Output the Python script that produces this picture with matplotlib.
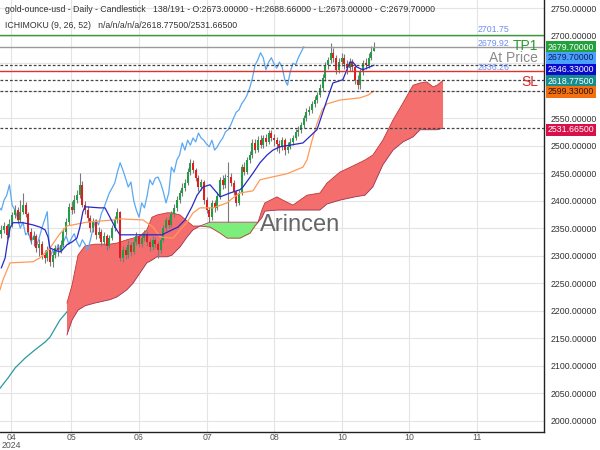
import matplotlib
matplotlib.use("Agg")
import matplotlib.pyplot as plt
import numpy as np

# ---------------- data ----------------
opens = [2340, 2347, 2354, 2338, 2358, 2374, 2383, 2365, 2380, 2392,
         2376, 2343, 2329, 2336, 2314, 2321, 2301, 2296, 2310, 2289,
         2301, 2314, 2310, 2320, 2343, 2361, 2389, 2383, 2401, 2410,
         2429, 2392, 2383, 2369, 2350, 2361, 2338, 2343, 2325, 2336,
         2318, 2332, 2350, 2365, 2380, 2296, 2310, 2301, 2320, 2307,
         2325, 2336, 2321, 2332, 2340, 2325, 2316, 2329, 2321, 2310,
         2329, 2350, 2365, 2356, 2376, 2387, 2401, 2414, 2423, 2432,
         2452, 2469, 2456, 2441, 2425, 2434, 2401, 2383, 2370, 2396,
         2387, 2409, 2438, 2429, 2443, 2443, 2432, 2416, 2396, 2414,
         2461, 2452, 2474, 2483, 2505, 2492, 2510, 2501, 2514, 2507,
         2523, 2514, 2510, 2503, 2498, 2510, 2492, 2498, 2507, 2514,
         2525, 2529, 2538, 2550, 2561, 2565, 2576, 2583, 2592, 2605,
         2623, 2647, 2656, 2669, 2660, 2638, 2652, 2660, 2649, 2641,
         2652, 2643, 2620, 2610, 2634, 2650, 2647, 2660, 2673]
closes = [2347, 2354, 2338, 2358, 2374, 2383, 2365, 2380, 2392, 2376,
          2343, 2329, 2336, 2314, 2321, 2301, 2296, 2310, 2289, 2301,
          2314, 2310, 2320, 2343, 2361, 2389, 2383, 2401, 2410, 2429,
          2392, 2383, 2369, 2350, 2361, 2338, 2343, 2325, 2336, 2318,
          2332, 2350, 2365, 2380, 2296, 2310, 2301, 2320, 2307, 2325,
          2336, 2321, 2332, 2340, 2325, 2316, 2329, 2321, 2310, 2329,
          2350, 2365, 2356, 2376, 2387, 2401, 2414, 2423, 2432, 2452,
          2469, 2456, 2441, 2425, 2434, 2401, 2383, 2370, 2396, 2387,
          2409, 2438, 2429, 2441, 2443, 2432, 2416, 2396, 2414, 2461,
          2452, 2474, 2483, 2505, 2492, 2510, 2501, 2514, 2507, 2523,
          2514, 2510, 2503, 2498, 2510, 2492, 2498, 2507, 2514, 2525,
          2529, 2538, 2550, 2561, 2565, 2576, 2583, 2592, 2605, 2623,
          2647, 2656, 2669, 2660, 2638, 2652, 2660, 2649, 2641, 2652,
          2643, 2620, 2610, 2634, 2650, 2647, 2660, 2670, 2679.7]
highs = [2356, 2362, 2358, 2366, 2380, 2392, 2388, 2402, 2414, 2398,
         2380, 2350, 2345, 2340, 2330, 2326, 2310, 2318, 2315, 2308,
         2320, 2322, 2328, 2350, 2368, 2395, 2400, 2410, 2420, 2450,
         2435, 2400, 2390, 2374, 2368, 2366, 2352, 2348, 2344, 2340,
         2338, 2356, 2372, 2386, 2382, 2318, 2316, 2328, 2325, 2332,
         2344, 2340, 2338, 2346, 2345, 2330, 2336, 2334, 2326, 2334,
         2356, 2370, 2372, 2382, 2394, 2408, 2420, 2432, 2440, 2460,
         2476, 2474, 2460, 2446, 2440, 2438, 2406, 2388, 2402, 2402,
         2415, 2444, 2446, 2448, 2470, 2450, 2438, 2420, 2420, 2466,
         2470, 2480, 2490, 2512, 2512, 2518, 2520, 2520, 2522, 2528,
         2528, 2522, 2516, 2510, 2516, 2514, 2506, 2514, 2520, 2530,
         2536, 2544, 2556, 2568, 2572, 2582, 2590, 2598, 2612, 2630,
         2652, 2662, 2686, 2678, 2664, 2660, 2668, 2666, 2656, 2660,
         2658, 2648, 2628, 2640, 2655, 2660, 2668, 2682, 2688.66]
lows = [2332, 2341, 2330, 2334, 2352, 2368, 2360, 2362, 2375, 2370,
        2338, 2322, 2318, 2306, 2300, 2294, 2286, 2290, 2282, 2280,
        2296, 2300, 2305, 2316, 2338, 2356, 2376, 2378, 2396, 2405,
        2388, 2376, 2362, 2343, 2344, 2330, 2332, 2318, 2320, 2310,
        2314, 2328, 2345, 2360, 2290, 2288, 2294, 2296, 2300, 2303,
        2320, 2315, 2316, 2326, 2318, 2308, 2310, 2314, 2296, 2305,
        2325, 2345, 2350, 2352, 2370, 2382, 2396, 2408, 2418, 2428,
        2446, 2450, 2436, 2418, 2420, 2394, 2377, 2362, 2365, 2380,
        2383, 2404, 2422, 2424, 2361, 2426, 2410, 2390, 2392, 2410,
        2446, 2448, 2468, 2478, 2486, 2488, 2495, 2496, 2500, 2503,
        2508, 2500, 2490, 2486, 2492, 2484, 2486, 2494, 2502, 2510,
        2518, 2524, 2532, 2545, 2555, 2560, 2570, 2578, 2588, 2600,
        2618, 2640, 2650, 2652, 2630, 2632, 2645, 2640, 2630, 2636,
        2636, 2612, 2603, 2604, 2628, 2640, 2642, 2655, 2673]

tenkan_x = [0, 1.4, 2.1, 3.2, 4.3, 8.0, 11.7, 14.3, 16.2, 17.3, 18.0, 19.9, 21.7,
            22.5, 24.3, 26.2, 28.0, 29.1, 30.2, 31.0, 36.5, 38.4, 40.2, 42.1,
            43.9, 59.5, 63.2, 65.4, 68.0, 70.6, 72.5, 74.7, 77.3, 79.9, 81.0,
            84.7, 88.4, 89.5, 93.2, 95.8, 98.4, 100.6, 103.2, 106.9, 111.7,
            116.9, 120.6, 122.8, 126.5, 129.1, 130.2, 131.7, 133.9, 138]
tenkan_v = [2278, 2296, 2319, 2350, 2360, 2360, 2356, 2352, 2347, 2334, 2314, 2310,
            2307, 2310, 2320, 2325, 2332, 2352, 2380, 2389, 2387, 2387, 2370, 2352,
            2338, 2338, 2347, 2352, 2365, 2389, 2410, 2425, 2429, 2414, 2407, 2414,
            2420, 2425, 2450, 2469, 2483, 2492, 2498, 2501, 2505, 2529, 2583, 2614,
            2620, 2652, 2652, 2643, 2638, 2646.33]

kijun_x = [-0.5, 0.6, 3.2, 11.7, 14.3, 18.0, 21.7, 24.3, 31.7, 41.4, 43.9, 52.5,
           56.2, 58.8, 63.6, 66.2, 68.8, 71.0, 73.6, 78.4, 83.6, 85.8, 88.4, 93.2,
           95.8, 98.4, 105.8, 111.7, 113.2, 115.1, 116.9, 118.8, 120.6, 125.4,
           132.8, 135.8, 138]
kijun_v = [2238, 2256, 2287, 2289, 2296, 2314, 2340, 2354, 2361, 2365, 2367, 2365,
           2352, 2334, 2332, 2347, 2361, 2378, 2387, 2387, 2396, 2405, 2414, 2418,
           2438, 2441, 2449, 2461, 2474, 2510, 2540, 2565, 2576, 2583, 2587, 2592,
           2599.33]

span_a_pre_x = [-0.5, 2.5, 5.1, 8.8, 12.5, 16.2, 18.0, 21.7, 24.3]
span_a_pre_v = [2059, 2078, 2096, 2114, 2129, 2143, 2152, 2183, 2198]

cloud_x = [24.3, 26.2, 28.4, 31.0, 34.7, 40.2, 42.8, 46.5, 48.8, 51.4, 53.9, 55.8,
           57.6, 61.4, 63.2, 66.2, 68.8, 71.0, 73.6, 77.3, 81.0, 83.6, 88.4, 92.1,
           93.9, 95.1, 96.5, 97.6, 102.1, 104.3, 108.0, 113.2, 118.0, 120.6, 125.4,
           131.0, 134.7, 137.6, 141.3, 145.1, 148.8, 152.5, 155.1, 157.6, 159.9,
           161.4, 163.6]
span_a = [2214, 2247, 2301, 2318, 2321, 2321, 2323, 2329, 2332, 2336, 2347, 2370,
          2374, 2378, 2378, 2374, 2363, 2354, 2354, 2352, 2341, 2332, 2332, 2341,
          2354, 2361, 2383, 2396, 2407, 2401, 2392, 2410, 2414, 2432, 2452, 2465,
          2474, 2483, 2510, 2547, 2578, 2610, 2614, 2616, 2607, 2610, 2618.775]
span_b = [2156, 2183, 2201, 2209, 2214, 2220, 2225, 2238, 2250, 2269, 2287, 2292,
          2298, 2298, 2301, 2316, 2334, 2347, 2354, 2361, 2361, 2361, 2361, 2361,
          2361, 2361, 2369, 2381, 2383, 2383, 2383, 2383, 2383, 2394, 2401, 2407,
          2410, 2425, 2465, 2492, 2507, 2516, 2529, 2529, 2529, 2529, 2531.665]

level_tp = 2701.75
level_at = 2679.92
level_sl = 2636.26
dashed_levels = [2646.33, 2618.775, 2599.33, 2531.665]

box_values = ["2679.70000", "2679.70000", "2646.33000", "2618.77500", "2599.33000", "2531.66500"]
box_colors = ["#22a03c", "#4aa0ff", "#0a0acc", "#168c8c", "#f27010", "#d8104a"]
box_text_colors = ["white", "#10205a", "white", "white", "#301000", "white"]
box_pix_y = [47, 58, 70, 81, 92, 130]

month_ticks = [3.6, 25.8, 51.0, 76.2, 101.0, 126.2, 151.0, 176.2]
month_labels = ["04\n2024", "05", "06", "07", "08", "10", "10", "11"]
ytick_vals = [2000, 2050, 2100, 2150, 2200, 2250, 2300, 2350, 2400, 2450, 2500, 2550, 2700, 2750]

# ---------------- figure ----------------
plt.rcParams['font.family'] = ['Liberation Sans', 'DejaVu Sans']
W, H = 600, 450
fig = plt.figure(figsize=(6, 4.5), dpi=100)
ax = fig.add_axes([0, 18 / H, 544 / W, 432 / H])
ax.set_xlim(-0.5, 201.0)
ax.set_ylim(1979.5, 2764.9)

for s in ["top", "left"]:
    ax.spines[s].set_visible(False)
ax.spines["right"].set_color("#222")
ax.spines["bottom"].set_color("#222")
ax.spines["right"].set_linewidth(1.0)
ax.spines["bottom"].set_linewidth(1.0)

ax.yaxis.tick_right()
ax.set_yticks(ytick_vals)
ax.set_yticklabels([f"{v:.5f}" for v in ytick_vals])
ax.tick_params(axis="y", length=0, pad=5, labelsize=6.3, colors="#333")
ax.set_xticks(month_ticks)
ax.set_xticklabels(month_labels)
ax.tick_params(axis="x", length=0, pad=1, labelsize=6.3, colors="#555")
for lab in ax.get_xticklabels():
    lab.set_linespacing(0.85)
ax.set_axisbelow(True)
ax.grid(True, color="#e4e4e4", linewidth=0.8)
ax.set_yticks([2600, 2650], minor=True)
ax.grid(True, which="minor", axis="y", color="#e4e4e4", linewidth=0.8)
ax.tick_params(which="minor", length=0)

# cloud
cx = np.array(cloud_x)
sa = np.array(span_a)
sb = np.array(span_b)
ax.fill_between(cx, sa, sb, where=sa >= sb, interpolate=True, color="#f46e6e", linewidth=0, zorder=1)
ax.fill_between(cx, sa, sb, where=sa < sb, interpolate=True, color="#7cee7c", linewidth=0, zorder=1)
ax.plot(cx, sa, color="#c03a3a", linewidth=0.6, zorder=1.2)
ax.plot(cx, sb, color="#9a3050", linewidth=0.6, zorder=1.2)
ax.plot(span_a_pre_x, span_a_pre_v, color="#2a9aa0", linewidth=0.9, zorder=1.5)

# chikou (close shifted back 26 bars)
idx = np.arange(len(closes))
ax.plot(idx - 26, closes, color="#5aa8f2", linewidth=0.9, zorder=2)

# candles
o = np.array(opens, dtype=float)
c = np.array(closes, dtype=float)
h = np.array(highs, dtype=float)
l = np.array(lows, dtype=float)
ax.vlines(idx, l, h, color="#7a7a7a", linewidth=0.8, zorder=3)
cols = np.where(c > o, "#1f9e45", np.where(c < o, "#e01e1e", "#7a7a7a"))
heights = np.abs(c - o)
heights = np.where(heights < 1.5, 1.5, heights)
ax.bar(idx, heights, bottom=np.minimum(o, c), width=0.75, color=cols, linewidth=0, zorder=3.2)

# tenkan / kijun
ax.plot(kijun_x, kijun_v, color="#ff9a55", linewidth=0.9, zorder=3.5)
ax.plot(tenkan_x, tenkan_v, color="#2828c8", linewidth=0.9, zorder=3.6)

# levels
ax.axhline(level_tp, color="#3a9a3a", linewidth=1.0, zorder=4)
ax.axhline(level_at, color="#9a9a9a", linewidth=1.0, zorder=4)
ax.axhline(level_sl, color="#e03030", linewidth=1.0, zorder=4)
for v in dashed_levels:
    ax.axhline(v, color="#444", linewidth=0.9, linestyle=(0, (2.2, 1.6)), zorder=4)

def axy(py):
    return 1 - py / 432.0

lab_col = "#6e8ef0"
ax.text(478 / 544, axy(30), "2701.75", transform=ax.transAxes, fontsize=6.3, color=lab_col, va="center", ha="left", zorder=5)
ax.text(478 / 544, axy(43), "2679.92", transform=ax.transAxes, fontsize=6.3, color=lab_col, va="center", ha="left", zorder=5)
ax.text(478 / 544, axy(68), "2636.26", transform=ax.transAxes, fontsize=6.3, color=lab_col, va="center", ha="left", zorder=5)
ax.text(538 / 544, axy(46), "TP1", transform=ax.transAxes, fontsize=10, color="#2e9a2e", va="center", ha="right", zorder=5)
ax.text(538 / 544, axy(58.5), "At Price", transform=ax.transAxes, fontsize=10, color="#8a8a8a", va="center", ha="right", zorder=5)
ax.text(538 / 544, axy(82), "SL", transform=ax.transAxes, fontsize=10, color="#e02828", va="center", ha="right", zorder=5)

ax.text(260 / 544, axy(225), "Arincen", transform=ax.transAxes, fontsize=17, color="#666666", va="center", ha="left", zorder=5)

# right-axis value boxes
for val, bc, tc, py in zip(box_values, box_colors, box_text_colors, box_pix_y):
    ax.text(548 / 544, axy(py), val, transform=ax.transAxes, fontsize=6.3, color=tc,
            va="center", ha="left", zorder=6, clip_on=False,
            bbox=dict(boxstyle="square,pad=0.18", facecolor=bc, edgecolor="none"))

# header
fig.text(5 / W, 1 - 10 / H,
         "gold-ounce-usd - Daily - Candlestick   138/191 - O:2673.00000 - H:2688.66000 - L:2673.00000 - C:2679.70000",
         fontsize=6.3, color="#333", va="center", ha="left")
fig.text(5 / W, 1 - 25 / H,
         "ICHIMOKU (9, 26, 52)   n/a/n/a/n/a/2618.77500/2531.66500",
         fontsize=6.3, color="#333", va="center", ha="left")

fig.savefig("out.png", dpi=100)
